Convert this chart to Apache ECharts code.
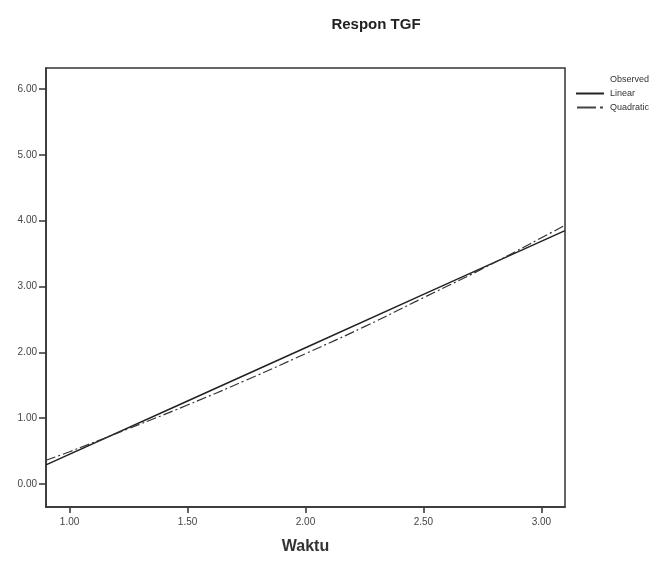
<!DOCTYPE html>
<html><head><meta charset="utf-8">
<script src="https://cdn.jsdelivr.net/npm/echarts@6/dist/echarts.min.js"></script>
<style>html,body{margin:0;padding:0;background:#fff}#c{width:668px;height:561px}</style>
</head><body><div id="c"></div>
<script>
var title = 'Respon TGF';
var xName = 'Waktu';
var seriesNames = ['Observed', 'Linear', 'Quadratic'];
var observed = [];
var linearX = [0.9, 1.5, 2.0, 2.5, 3.1];
var linearY = [0.29, 1.26, 2.07, 2.88, 3.85];
var quadX = [0.9, 1.0, 1.25, 1.5, 1.75, 2.0, 2.25, 2.5, 2.75, 3.0, 3.1];
var quadY = [0.36, 0.49, 0.84, 1.20, 1.58, 1.98, 2.39, 2.83, 3.27, 3.74, 3.93];
var xTicks = [1.0, 1.5, 2.0, 2.5, 3.0];
var yTicks = [0, 1, 2, 3, 4, 5, 6];

var FONT = '"Liberation Sans Narrow", "Liberation Sans", Arial, sans-serif';
function pairs(xs, ys){ return xs.map(function(x,i){return [x, ys[i]];}); }
var chart = echarts.init(document.getElementById('c'), null, {renderer:'canvas'});
chart.setOption({
  backgroundColor:'#fff',
  animation:false,
  title:{text:title, left:371, top:12, textAlign:'center',
    textStyle:{fontFamily:'"Liberation Sans", Arial', fontWeight:'bold', fontSize:15, color:'#222'}},
  legend:{orient:'vertical', left:576, top:75, itemWidth:28, itemHeight:2, itemGap:5, padding:0,
    textStyle:{fontFamily:FONT, fontSize:9, color:'#333', padding:[0,0,0,1]},
    data:[
      {name:seriesNames[0], icon:'rect', itemStyle:{color:'rgba(0,0,0,0)'}},
      {name:seriesNames[1], icon:'rect', itemStyle:{color:'#222'}},
      {name:seriesNames[2], icon:'path://M0,0h19v2h-19z M23,0h3v2h-3z', itemStyle:{color:'#444'}}
    ]},
  grid:{left:46, right:103, top:68, bottom:54, show:true, borderColor:'#333', borderWidth:1.5, backgroundColor:'#fff'},
  xAxis:{type:'value', min:0.9, max:3.1, name:xName, nameLocation:'middle', nameGap:32,
    nameTextStyle:{fontFamily:'"Liberation Sans", Arial', fontWeight:'bold', fontSize:16, color:'#333'},
    axisLine:{show:true, onZero:false, lineStyle:{color:'#333', width:1.5}},
    axisTick:{show:true, length:6, lineStyle:{color:'#333', width:1.5},
      customValues: xTicks},
    axisLabel:{fontFamily:FONT, fontSize:10, color:'#444', margin:10,
      customValues: xTicks, formatter:function(v){return v.toFixed(2);}},
    splitLine:{show:false}},
  yAxis:{type:'value', min:-0.35, max:6.32,
    axisLine:{show:true, onZero:false, lineStyle:{color:'#333', width:1.5}},
    axisTick:{show:true, length:7, lineStyle:{color:'#333', width:1.5}, customValues: yTicks},
    axisLabel:{fontFamily:FONT, fontSize:10, color:'#444', margin:9,
      customValues: yTicks, formatter:function(v){return v.toFixed(2);}},
    splitLine:{show:false}},
  series:[
    {name:'Observed', type:'scatter', data:observed, symbolSize:4, itemStyle:{color:'#333'}},
    {name:'Linear', type:'line', data:pairs(linearX, linearY), symbol:'none', smooth:false,
      lineStyle:{color:'#222', width:1.5}, itemStyle:{color:'#222'}},
    {name:'Quadratic', type:'line', data:pairs(quadX, quadY), symbol:'none', smooth:true,
      lineStyle:{color:'#333', width:1.2, type:[10,3,2,3]}, itemStyle:{color:'#333'}}
  ]
});
</script></body></html>
